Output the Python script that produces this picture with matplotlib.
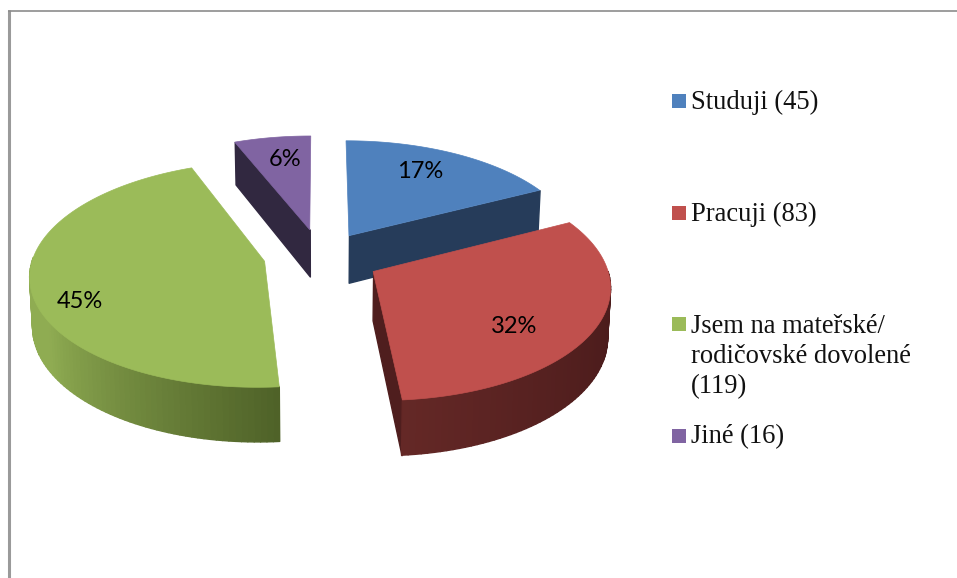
import numpy as np
import matplotlib
matplotlib.use("Agg")
import matplotlib.pyplot as plt
from matplotlib.collections import PolyCollection
from matplotlib.colors import to_rgb
from matplotlib.patches import Rectangle, Polygon

# ---- data ----
categories = ["Studuji (45)", "Pracuji (83)", "Jsem na mateřské/\nrodičovské dovolené\n(119)", "Jiné (16)"]
counts = [45, 83, 119, 16]
percent_labels = ["17%", "32%", "45%", "6%"]
# ---- style ----
top_colors = ["#4F81BD", "#C0504D", "#9BBB59", "#8064A2"]
edge_nudge = [0, 1.5, 0, 0, 0]
explode = [0.22, 0.27, 0.245, 0.24]
explode_da = [4, 4, 0, 0]
label_r = [0.74, 0.72, 0.83, 0.735]
label_da = [-3.5, 10.5, -11.5, 1.5]
legend_y = [101, 213, 324, 436]
text_base = [109, 221, 393, 443]

W, H = 957, 578
fig = plt.figure(figsize=(W / 100, H / 100), dpi=100)
ax = fig.add_axes([0, 0, 1, 1])
ax.set_xlim(0, W)
ax.set_ylim(H, 0)
ax.axis("off")

CX, CY, A, B, P, DEPTH = 320, 255, 231, 110, 0.115, 48


def project(u, v, z=0.0):
    s = 1 / (1 + P * v)
    shrink = 1 - 0.01 * (z > 0)
    return CX + A * u * s * shrink, CY - B * v * s + DEPTH * s * z


def plane(deg, r=1.0):
    t = np.radians(deg)
    return r * np.sin(t), r * np.cos(t)


def mix(c1, c2, f):
    return tuple(np.array(to_rgb(c1)) * (1 - f) + np.array(to_rgb(c2)) * f)


def wall(pts_u, pts_v, colors, zorder):
    xt, yt = project(pts_u, pts_v, 0)
    xb, yb = project(pts_u, pts_v, 1)
    quads = [[(xt[i], yt[i]), (xt[i + 1], yt[i + 1]), (xb[i + 1], yb[i + 1]), (xb[i], yb[i])]
             for i in range(len(xt) - 1)]
    ax.add_collection(PolyCollection(quads, facecolors=colors, edgecolors=colors,
                                     linewidths=1.0, zorder=zorder))


fracs = np.array(counts) / sum(counts)
edges = np.concatenate([[0], np.cumsum(fracs) * 360]) + np.array(edge_nudge)
slices = []
for i in range(len(counts)):
    a0, a1 = edges[i], edges[i + 1]
    mid = (a0 + a1) / 2
    eu, ev = plane(mid + explode_da[i], explode[i])
    slices.append((a0, a1, mid, eu, ev))

# paint order: back pieces first
order = [0, 3, 2, 1]
for z, i in enumerate(order):
    a0, a1, mid, eu, ev = slices[i]
    zw = 2 + z * 2
    ang = np.linspace(a0, a1, 120)
    ru, rv = plane(ang)
    ru, rv = ru + eu, rv + ev

    if i == 0:      # radial wall on the right edge
        u = np.array([eu, ru[-1]]); v = np.array([ev, rv[-1]])
        wall(u, v, ["#263C5A"], zw)
    if i == 3:      # radial wall on the left edge
        u = np.array([eu, ru[0]]); v = np.array([ev, rv[0]])
        wall(u, v, ["#312840"], zw)
    if i == 1:      # outer rim and left radial wall
        u = np.array([ru[-1], eu]); v = np.array([rv[-1], ev])
        wall(u, v, ["#4F1E1E"], zw)
        arc = np.linspace(90, a1, 60)
        au, av = plane(arc)
        au, av = au + eu, av + ev
        cols = [mix("#4A1B1B", "#642826", (k / 58) ** 1.5) for k in range(59)]
        wall(au, av, cols, zw)
    if i == 2:      # outer rim
        arc = np.linspace(a0, 272, 70)
        au, av = plane(arc)
        au, av = au + eu, av + ev
        cols = [mix("#4F6228", "#8FAC52", min(1, (k / 68) * 1.5)) for k in range(69)]
        wall(au, av, cols, zw)

    x, y = project(np.r_[eu, ru], np.r_[ev, rv])
    ax.add_patch(Polygon(np.c_[x, y], closed=True, fc=top_colors[i], ec=top_colors[i],
                         lw=0.5, zorder=zw + 1))

    lu, lv = plane(mid + label_da[i], label_r[i])
    lx, ly = project(lu + eu, lv + ev)
    ax.text(lx, ly, percent_labels[i], ha="center", va="center", color="black",
            fontsize=17, family="Lato", zorder=20)

# legend
for name, color, ys, yt in zip(categories, top_colors, legend_y, text_base):
    ax.add_patch(Rectangle((672, ys - 7), 14, 14, fc=color, ec="none", zorder=20))
    ax.text(691, yt, name, ha="left", va="baseline", fontsize=19.1, color="#111111",
            family="Liberation Serif", linespacing=1.27, zorder=20)

# picture frame
ax.plot([8.5, 8.5], [10, H], color="#9a9a9a", lw=2.2, solid_capstyle="butt", zorder=1)
ax.plot([8, W], [10.5, 10.5], color="#8c8c8c", lw=1.2, solid_capstyle="butt", zorder=1)

fig.savefig("out.png", dpi=100, facecolor="white")
